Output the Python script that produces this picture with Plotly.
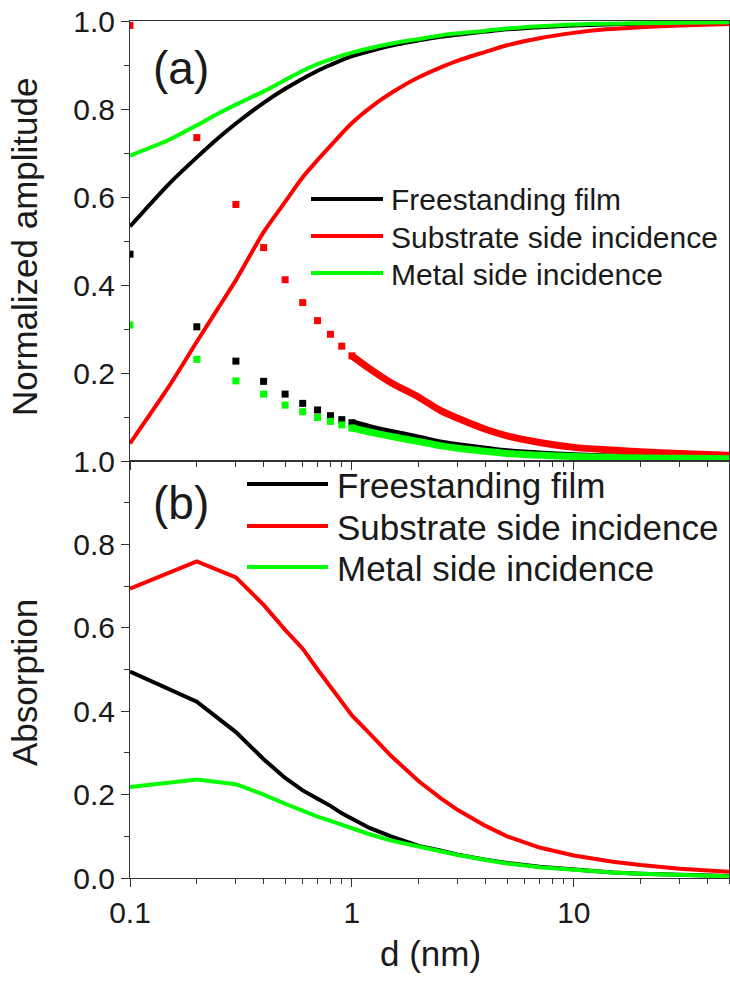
import plotly.graph_objects as go
import math

# ---------------- data ----------------
# Panel (a): squares (reflection-like amplitudes) at discrete thickness values
d_sq = [0.1, 0.2, 0.3, 0.4, 0.5, 0.6, 0.7, 0.8, 0.9, 1.0]
r_free_sq = [0.47, 0.305, 0.227, 0.181, 0.152, 0.131, 0.116, 0.103, 0.094, 0.087]
r_sub_sq = [0.99, 0.735, 0.583, 0.485, 0.412, 0.36, 0.319, 0.288, 0.261, 0.239]
r_met_sq = [0.309, 0.231, 0.182, 0.152, 0.127, 0.112, 0.099, 0.09, 0.082, 0.075]

# Panel (a): dense square points that merge into a band for d >= 1 nm
d_band = [1.0, 1.2, 1.5, 2, 2.5, 3, 4, 5, 7, 10, 15, 20, 30, 50]
r_free_band = [0.087, 0.076, 0.065, 0.052, 0.041, 0.035, 0.027, 0.021, 0.016, 0.012, 0.009, 0.008, 0.007, 0.006]
r_sub_band = [0.239, 0.21, 0.178, 0.145, 0.115, 0.097, 0.072, 0.057, 0.042, 0.031, 0.025, 0.021, 0.017, 0.013]
r_met_band = [0.075, 0.066, 0.056, 0.044, 0.035, 0.029, 0.022, 0.017, 0.013, 0.010, 0.008, 0.007, 0.006, 0.005]

# Panel (a): solid lines (transmission-like amplitudes)
d_t = [0.1, 0.15, 0.2, 0.25, 0.3, 0.4, 0.5, 0.6, 0.7, 0.8, 1.0, 1.3, 1.6, 2, 2.5, 3, 4, 5, 7, 10, 14, 20, 30, 50]
t_free = [0.533, 0.63, 0.69, 0.734, 0.767, 0.814, 0.846, 0.869, 0.887, 0.9, 0.92, 0.936, 0.947, 0.956,
          0.964, 0.969, 0.976, 0.981, 0.986, 0.990, 0.992, 0.994, 0.995, 0.996]
t_sub = [0.04, 0.17, 0.271, 0.348, 0.411, 0.52, 0.589, 0.645, 0.684, 0.716, 0.768, 0.815, 0.845, 0.872,
         0.894, 0.91, 0.93, 0.945, 0.961, 0.973, 0.981, 0.986, 0.99, 0.993]
t_met = [0.694, 0.73, 0.763, 0.79, 0.81, 0.84, 0.866, 0.887, 0.902, 0.913, 0.928, 0.942, 0.951, 0.959,
         0.967, 0.972, 0.978, 0.983, 0.988, 0.992, 0.994, 0.995, 0.996, 0.997]

# Panel (b): absorption
d_b = [0.1, 0.2, 0.3, 0.4, 0.5, 0.6, 0.7, 0.8, 0.9, 1.0, 1.2, 1.5, 2, 2.5, 3, 4, 5, 7, 10, 15, 20, 30, 50]
A_free = [0.495, 0.423, 0.35, 0.285, 0.24, 0.21, 0.19, 0.173, 0.155, 0.142, 0.12, 0.1, 0.077, 0.066,
          0.056, 0.044, 0.036, 0.027, 0.02, 0.013, 0.01, 0.007, 0.005]
A_sub = [0.694, 0.759, 0.721, 0.655, 0.595, 0.55, 0.5, 0.46, 0.425, 0.39, 0.347, 0.293, 0.232, 0.192,
         0.163, 0.125, 0.1, 0.073, 0.054, 0.039, 0.031, 0.022, 0.015]
A_met = [0.218, 0.236, 0.225, 0.2, 0.178, 0.16, 0.147, 0.137, 0.127, 0.12, 0.105, 0.09, 0.075, 0.064,
         0.055, 0.043, 0.035, 0.026, 0.019, 0.013, 0.01, 0.007, 0.004]

series_names = ["Freestanding film", "Substrate side incidence", "Metal side incidence"]
colors = ["#000000", "#FF0000", "#00FF00"]

x_ticks = [0.1, 1, 10]
x_ticktext = ["0.1", "1", "10"]
x_minor = [0.2, 0.3, 0.4, 0.5, 0.6, 0.7, 0.8, 0.9, 2, 3, 4, 5, 6, 7, 8, 9, 20, 30, 40, 50]
ya_ticks = [0.2, 0.4, 0.6, 0.8, 1.0]
yb_ticks = [0.0, 0.2, 0.4, 0.6, 0.8, 1.0]
y_minor = [0.1, 0.3, 0.5, 0.7, 0.9]

# ---------------- figure ----------------
FONT = "Liberation Sans, Arial, sans-serif"
fig = go.Figure()

sq_sets = [r_free_sq, r_sub_sq, r_met_sq]
band_sets = [r_free_band, r_sub_band, r_met_band]
t_sets = [t_free, t_sub, t_met]
A_sets = [A_free, A_sub, A_met]

for name, c, tt, sq, bd in zip(series_names, colors, t_sets, sq_sets, band_sets):
    fig.add_trace(go.Scatter(x=d_t, y=tt, mode="lines",
                             line=dict(color=c, width=4, shape="spline", smoothing=0.8),
                             name=name, showlegend=False, xaxis="x", yaxis="y"))
    fig.add_trace(go.Scatter(x=d_band, y=bd, mode="lines",
                             line=dict(color=c, width=7, shape="spline", smoothing=0.8),
                             name=name, showlegend=False, xaxis="x", yaxis="y"))
    fig.add_trace(go.Scatter(x=d_sq, y=sq, mode="markers",
                             marker=dict(symbol="square", size=7, color=c, line=dict(width=0)),
                             name=name, showlegend=False, xaxis="x", yaxis="y"))

for name, c, aa in zip(series_names, colors, A_sets):
    fig.add_trace(go.Scatter(x=d_b, y=aa, mode="lines", line=dict(color=c, width=4),
                             name=name, showlegend=False, xaxis="x2", yaxis="y2"))

split = (878 - 461) / 857.0
xr = [math.log10(0.1), math.log10(50)]

common_x = dict(type="log", range=xr, showline=True, linecolor="#333", linewidth=1, mirror=True,
                ticks="outside", ticklen=8, tickwidth=1, tickcolor="#333",
                tickvals=x_ticks, ticktext=x_ticktext,
                minor=dict(tickvals=x_minor, ticks="outside", ticklen=5, tickwidth=1, tickcolor="#333"),
                showgrid=False, zeroline=False,
                tickfont=dict(family=FONT, size=30, color="#1a1a1a"))
common_y = dict(range=[0, 1], showline=True, linecolor="#333", linewidth=1, mirror=True,
                ticks="outside", ticklen=8, tickwidth=1, tickcolor="#333",
                minor=dict(tickvals=y_minor, ticks="outside", ticklen=5, tickwidth=1, tickcolor="#333"),
                showgrid=False, zeroline=False,
                tickfont=dict(family=FONT, size=30, color="#1a1a1a"))

fig.update_layout(
    width=730, height=999,
    margin=dict(l=130, r=1, t=21, b=121),
    paper_bgcolor="white", plot_bgcolor="white",
    showlegend=False,
    xaxis=dict(common_x, anchor="y", domain=[0, 1], showticklabels=False),
    yaxis=dict(common_y, anchor="x", domain=[split, 1], tickvals=ya_ticks,
               ticktext=["%.1f" % v for v in ya_ticks]),
    xaxis2=dict(common_x, anchor="y2", domain=[0, 1]),
    yaxis2=dict(common_y, anchor="x2", domain=[0, split], tickvals=yb_ticks,
                ticktext=["%.1f" % v for v in yb_ticks]),
)


def px_x(px):
    return (px - 130) / 599.0


def px_y(py):
    return (878 - py) / 857.0


shapes = []
annotations = []

# legend (a)
for i, (name, c) in enumerate(zip(series_names, colors)):
    py = [199, 236, 273][i]
    shapes.append(dict(type="line", xref="paper", yref="paper", x0=px_x(311), x1=px_x(383),
                       y0=px_y(py), y1=px_y(py), line=dict(color=c, width=4)))
    annotations.append(dict(xref="paper", yref="paper", x=px_x(389), y=px_y(py + 1), text=name,
                            showarrow=False, xanchor="left", yanchor="middle",
                            font=dict(family=FONT, size=30, color="#1a1a1a")))
# legend (b)
for i, (name, c) in enumerate(zip(series_names, colors)):
    py = [484, 526, 567][i]
    shapes.append(dict(type="line", xref="paper", yref="paper", x0=px_x(247), x1=px_x(328),
                       y0=px_y(py), y1=px_y(py), line=dict(color=c, width=4)))
    annotations.append(dict(xref="paper", yref="paper", x=px_x(335), y=px_y(py + 1), text=name,
                            showarrow=False, xanchor="left", yanchor="middle",
                            font=dict(family=FONT, size=35, color="#1a1a1a")))

annotations += [
    dict(xref="paper", yref="paper", x=px_x(181), y=px_y(68), text="(a)", showarrow=False,
         xanchor="center", yanchor="middle", font=dict(family=FONT, size=46, color="#1a1a1a")),
    dict(xref="paper", yref="paper", x=px_x(181), y=px_y(503), text="(b)", showarrow=False,
         xanchor="center", yanchor="middle", font=dict(family=FONT, size=46, color="#1a1a1a")),
    dict(xref="paper", yref="paper", x=px_x(24), y=px_y(247), text="Normalized amplitude",
         showarrow=False, textangle=-90, xanchor="center", yanchor="middle",
         font=dict(family=FONT, size=35, color="#1a1a1a")),
    dict(xref="paper", yref="paper", x=px_x(24), y=px_y(683), text="Absorption",
         showarrow=False, textangle=-90, xanchor="center", yanchor="middle",
         font=dict(family=FONT, size=35, color="#1a1a1a")),
    dict(xref="paper", yref="paper", x=px_x(430), y=px_y(953), text="d (nm)",
         showarrow=False, xanchor="center", yanchor="middle",
         font=dict(family=FONT, size=35, color="#1a1a1a")),
]

fig.update_layout(shapes=shapes, annotations=annotations)
fig.write_html("out.html")
